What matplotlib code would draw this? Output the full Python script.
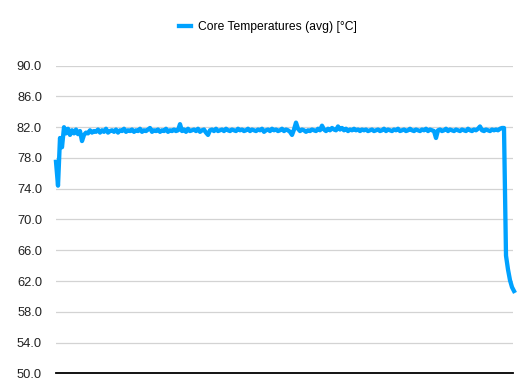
import matplotlib
matplotlib.use("Agg")
import matplotlib.pyplot as plt
import numpy as np

plt.rcParams['font.family'] = ['Liberation Sans', 'DejaVu Sans']

series_name = "Core Temperatures (avg) [°C]"
temps = [
    77.5, 74.4, 80.6, 79.4, 82.0, 81.2, 81.8, 81.0, 81.6, 81.2,
    81.7, 81.1, 81.5, 80.2, 81.0, 81.3, 81.2, 81.6, 81.3, 81.5,
    81.4, 81.7, 81.3, 81.6, 81.4, 81.8, 81.3, 81.5, 81.6, 81.4,
    81.7, 81.3, 81.6, 81.5, 81.8, 81.4, 81.6, 81.5, 81.7, 81.4,
    81.6, 81.5, 81.8, 81.4, 81.6, 81.5, 81.7, 81.9, 81.4, 81.6,
    81.5, 81.7, 81.4, 81.6, 81.5, 81.8, 81.4, 81.6, 81.5, 81.7,
    81.5, 81.6, 82.4, 81.5, 81.7, 81.4, 81.8, 81.5, 81.6, 81.7,
    81.5, 81.8, 81.4, 81.6, 81.7, 81.3, 81.0, 81.6, 81.7, 81.5,
    81.8, 81.5, 81.6, 81.7, 81.5, 81.8, 81.6, 81.5, 81.7, 81.6,
    81.5, 81.8, 81.6, 81.7, 81.5, 81.6, 81.8, 81.5, 81.7, 81.6,
    81.5, 81.7, 81.6, 81.8, 81.4, 81.6, 81.7, 81.5, 81.8, 81.6,
    81.7, 81.5, 81.6, 81.8, 81.5, 81.7, 81.6, 81.4, 81.0, 81.7,
    82.6, 81.8, 81.5, 81.7, 81.6, 81.4, 81.6, 81.5, 81.7, 81.6,
    81.5, 81.8, 81.6, 82.2, 81.7, 81.5, 81.8, 81.6, 81.9, 81.7,
    81.6, 82.1, 81.7, 81.9, 81.6, 81.8, 81.5, 81.7, 81.6, 81.8,
    81.6, 81.7, 81.5, 81.7, 81.6, 81.7, 81.5, 81.6, 81.7, 81.5,
    81.6, 81.7, 81.5, 81.6, 81.8, 81.5, 81.7, 81.6, 81.5, 81.7,
    81.6, 81.8, 81.5, 81.6, 81.7, 81.5, 81.6, 81.8, 81.6, 81.5,
    81.7, 81.6, 81.5, 81.7, 81.6, 81.8, 81.5, 81.7, 81.6, 81.5,
    80.6, 81.6, 81.7, 81.5, 81.6, 81.8, 81.5, 81.7, 81.6, 81.5,
    81.7, 81.6, 81.5, 81.7, 81.6, 81.5, 81.8, 81.6, 81.5, 81.7,
    81.6, 81.8, 82.1, 81.6, 81.5, 81.7, 81.6, 81.5, 81.7, 81.6,
    81.7, 81.6, 81.8, 81.9, 81.9, 65.3, 63.5, 62.1, 61.2, 60.7,
]
y_ticks = [50.0, 54.0, 58.0, 62.0, 66.0, 70.0, 74.0, 78.0, 82.0, 86.0, 90.0]

W, H = 532, 392
fig = plt.figure(figsize=(W / 100, H / 100), dpi=100)
ax = fig.add_axes([56 / W, 1 - 373.3 / H, 457 / W, (373.3 - 65.7) / H])

x = np.arange(len(temps))
line, = ax.plot(x, temps, color='#00A2FF', lw=3.1, solid_joinstyle='round',
                clip_on=False, zorder=3, label=series_name)

ax.set_xlim(0, 228.5)
ax.set_ylim(50, 90)
ax.set_yticks(y_ticks)
ax.set_yticklabels([f"{v:.1f}" for v in y_ticks], fontsize=9.3, color='#222222')
ax.tick_params(axis='y', length=0, pad=10)
ax.set_xticks([])

for v in y_ticks[1:]:
    ax.axhline(v, color='#D3D3D3', lw=0.9, zorder=1)

for s in ['top', 'right', 'left']:
    ax.spines[s].set_visible(False)
ax.spines['bottom'].set_color('#000000')
ax.spines['bottom'].set_linewidth(1.3)

fig.legend(handles=[line], loc='center', bbox_to_anchor=(268 / W, 1 - 27 / H),
           frameon=False, fontsize=8.7, handlelength=1.0, handletextpad=0.6)

fig.savefig('out.png', dpi=100)
